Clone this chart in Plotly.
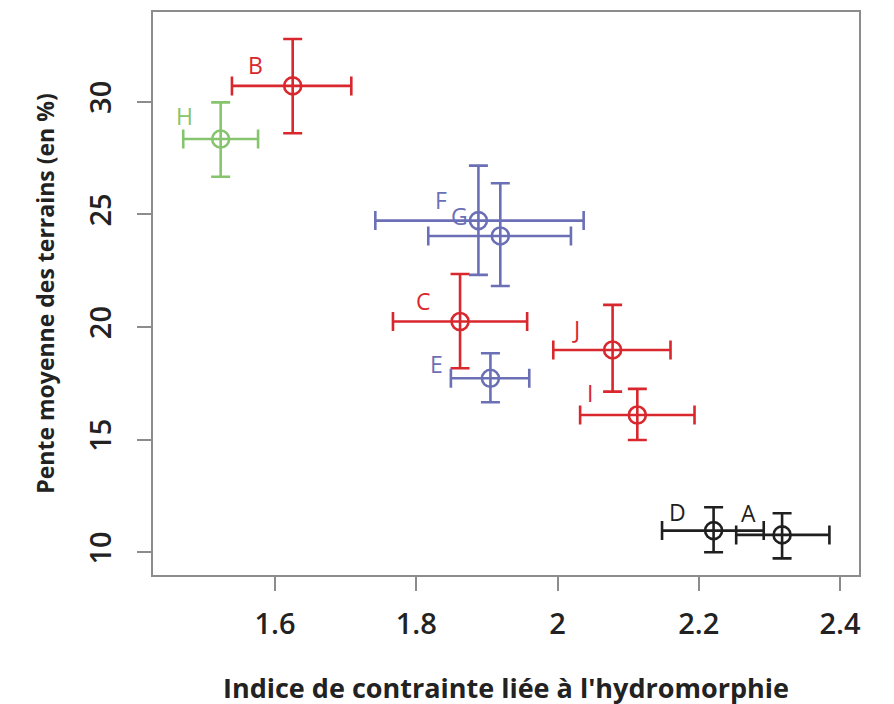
import plotly.graph_objects as go

# Points (label, group) and their values
labels = ['A', 'B', 'C', 'D', 'E', 'F', 'G', 'H', 'I', 'J']
groups = ['black', 'red', 'red', 'black', 'blue', 'blue', 'blue', 'green', 'red', 'red']

x_mean = [2.318, 1.625, 1.862, 2.221, 1.905, 1.888, 1.919, 1.523, 2.113, 2.078]
x_low = [2.253, 1.539, 1.767, 2.148, 1.849, 1.742, 1.817, 1.470, 2.032, 1.994]
x_high = [2.385, 1.708, 1.957, 2.292, 1.960, 2.037, 2.019, 1.576, 2.194, 2.160]

y_mean = [10.77, 30.70, 20.24, 10.96, 17.72, 24.72, 24.04, 28.34, 16.09, 18.98]
y_low = [9.73, 28.60, 18.17, 10.00, 16.66, 22.31, 21.82, 26.67, 14.98, 17.13]
y_high = [11.73, 32.78, 22.35, 12.00, 18.83, 27.16, 26.38, 29.97, 17.25, 20.98]

colors = {
    'black': '#1f1f1f',
    'red': '#d9272e',
    'blue': '#6b70b6',
    'green': '#86c46e',
}

# label offsets in pixels (right, up) from each point
label_shift = {
    'A': (-34, 22), 'B': (-37, 21), 'C': (-37, 21), 'D': (-36, 19),
    'E': (-54, 14), 'F': (-37, 21), 'G': (-41, 20), 'H': (-36, 23),
    'I': (-47, 22), 'J': (-37, 21),
}

fig = go.Figure()

for i, lab in enumerate(labels):
    col = colors[groups[i]]
    fig.add_trace(go.Scatter(
        x=[x_mean[i]],
        y=[y_mean[i]],
        mode='markers',
        marker=dict(symbol='circle-open', size=17, color=col,
                    line=dict(width=2.6, color=col)),
        error_x=dict(type='data', symmetric=False,
                     array=[x_high[i] - x_mean[i]],
                     arrayminus=[x_mean[i] - x_low[i]],
                     color=col, thickness=2.6, width=9.5),
        error_y=dict(type='data', symmetric=False,
                     array=[y_high[i] - y_mean[i]],
                     arrayminus=[y_mean[i] - y_low[i]],
                     color=col, thickness=2.6, width=9.5),
        showlegend=False,
        hoverinfo='skip',
    ))
    fig.add_annotation(
        x=x_mean[i], y=y_mean[i], text=lab, showarrow=False,
        xshift=label_shift[lab][0], yshift=label_shift[lab][1],
        font=dict(family='Open Sans', size=23, color=col),
    )

axis_style = dict(
    showline=True,
    linecolor='#8c8c8c',
    linewidth=2,
    mirror=True,
    ticks='outside',
    ticklen=14,
    tickwidth=2,
    tickcolor='#8c8c8c',
    showgrid=False,
    zeroline=False,
    tickfont=dict(family='Open Sans', size=29, color='#222222', weight=600),
)

fig.update_xaxes(
    range=[1.4272, 2.4269],
    tickvals=[1.6, 1.8, 2.0, 2.2, 2.4],
    ticktext=['1.6', '1.8', '2', '2.2', '2.4'],
    ticklabelstandoff=8,
    title=dict(text="Indice de contrainte liée à l'hydromorphie",
               font=dict(family='Open Sans', size=27, color='#222222', weight=700),
               standoff=38),
    **axis_style,
)
fig.update_yaxes(
    range=[8.99, 33.98],
    tickvals=[10, 15, 20, 25, 30],
    tickangle=-90,
    ticklabelstandoff=14,
    title=dict(text='Pente moyenne des terrains (en %)',
               font=dict(family='Open Sans', size=23, color='#222222', weight=700),
               standoff=19),
    **axis_style,
)

fig.update_layout(
    width=894,
    height=704,
    margin=dict(l=145, r=43, t=4, b=137, autoexpand=False),
    plot_bgcolor='white',
    paper_bgcolor='white',
)

fig.write_html('out.html')
